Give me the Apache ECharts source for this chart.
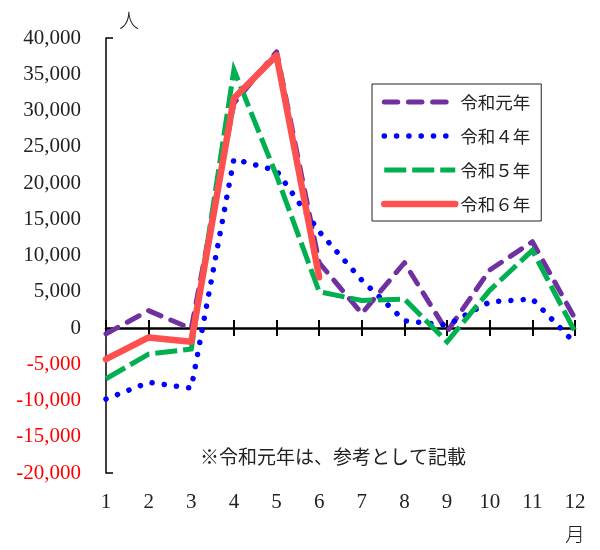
<!DOCTYPE html>
<html>
<head>
<meta charset="utf-8">
<script src="https://cdn.jsdelivr.net/npm/echarts@6/dist/echarts.min.js"></script>
<style>
html,body{margin:0;padding:0;background:#fff;}
#chart{width:600px;height:550px;}
</style>
</head>
<body>
<div id="chart"></div>
<script>
const months = ['1','2','3','4','5','6','7','8','9','10','11','12'];
const seriesNames = ['令和元年','令和４年','令和５年','令和６年'];
const r1 = [-800, 2400, -100, 31000, 38100, 9000, 2000, 9000, -500, 8000, 11900, 1300];
const r4 = [-9800, -7500, -8300, 23300, 21700, 13300, 6600, 1000, 400, 3600, 4000, -2100];
const r5 = [-7000, -3600, -2900, 35600, 21000, 5000, 3800, 4000, -1900, 5200, 10700, -500];
const r6 = [-4300, -1300, -1900, 31700, 37600, 7000];
const yTicks = {min: -20000, max: 40000, step: 5000};
const yUnit = '人';
const xUnit = '月';
const note = '※令和元年は、参考として記載';

const serif = '"Liberation Serif", "DejaVu Serif", serif';
const cjk = '"Noto Sans CJK JP", sans-serif';

const styles = [
  {color: '#7030a0', width: 5, type: [13.5, 10.7], cap: 'round', join: 'round'},
  {color: '#0000ff', width: 5.5, type: [0.1, 12.2], cap: 'round', join: 'round'},
  {color: '#00b050', width: 5, type: [22, 6], cap: 'butt', join: 'miter'},
  {color: '#ff5050', width: 6.5, type: 'solid', cap: 'round', join: 'round'}
];

function fmt(v){
  const s = Math.abs(v).toString().replace(/\B(?=(\d{3})+(?!\d))/g, ',');
  return (v < 0 ? '-' : '') + s;
}

const chart = echarts.init(document.getElementById('chart'), null, {renderer:'canvas'});
const baseX = {
  type: 'category', data: months, boundaryGap: false, gridIndex: 0,
  splitLine: {show:false}
};
const dataSets = [r1, r4, r5, r6];
chart.setOption({
  animation: false,
  backgroundColor: '#fff',
  grid: {left: 106, right: 25, top: 38, bottom: 77, containLabel: false},
  xAxis: [
    Object.assign({}, baseX, {
      position: 'bottom',
      axisLine: {show: true, onZero: true, onZeroAxisIndex: 0, lineStyle: {color: '#000', width: 2.5}},
      axisTick: {show: true, inside: true, length: 8, lineStyle: {color: '#000', width: 2}},
      axisLabel: {show: false}
    }),
    Object.assign({}, baseX, {
      position: 'bottom',
      axisLine: {show: false, onZero: true, onZeroAxisIndex: 0},
      axisTick: {show: true, inside: false, length: 8, lineStyle: {color: '#000', width: 2}},
      axisLabel: {show: false}
    }),
    Object.assign({}, baseX, {
      position: 'bottom',
      axisLine: {show: false, onZero: false},
      axisTick: {show: false},
      axisLabel: {show: true, margin: 19, color: '#222', fontFamily: serif, fontSize: 21}
    })
  ],
  yAxis: {
    type: 'value', min: yTicks.min, max: yTicks.max, interval: yTicks.step,
    axisLine: {show: true, lineStyle: {color: '#000', width: 1.5}},
    axisTick: {show: true, inside: true, length: 7, customValues: [yTicks.min, yTicks.max], lineStyle: {color: '#000', width: 1.5}},
    splitLine: {show: true, showMinLine: false, showMaxLine: false, lineStyle: {color: '#999', width: 1.3}},
    axisLabel: {
      margin: 25, fontFamily: serif, fontSize: 21,
      formatter: function(v){ return fmt(v); },
      color: function(v){ return Number(v) < 0 ? '#ff0000' : '#222'; }
    }
  },
  legend: {
    orient: 'vertical', left: 372, top: 84,
    padding: [9, 11, 8, 9],
    itemWidth: 71, itemHeight: 14, itemGap: 16,
    backgroundColor: '#fff', borderColor: '#222', borderWidth: 1,
    textStyle: {fontFamily: cjk, fontSize: 17.5, lineHeight: 18, color: '#222', padding: [0,0,0,0]},
    data: seriesNames.map(function(n, i){
      return {
        name: n,
        itemStyle: {opacity: 0, color: 'transparent', borderWidth: 0},
        lineStyle: {color: styles[i].color, width: styles[i].width, type: styles[i].type, cap: styles[i].cap, join: styles[i].join, opacity: 1}
      };
    })
  },
  series: dataSets.map(function(d, i){
    return {
      name: seriesNames[i], type: 'line', data: d, symbol: 'none', clip: false, z: 2 + i,
      itemStyle: {color: styles[i].color},
      lineStyle: styles[i]
    };
  }),
  graphic: [
    {type: 'text', x: 129, y: 20, style: {text: yUnit, fontFamily: cjk, fontSize: 20, fontWeight: 300, fill: '#222', align: 'center', verticalAlign: 'middle'}},
    {type: 'text', x: 575, y: 534, style: {text: xUnit, fontFamily: cjk, fontSize: 20, fontWeight: 300, fill: '#222', align: 'center', verticalAlign: 'middle'}},
    {type: 'text', x: 200, y: 457, style: {text: note, fontFamily: cjk, fontSize: 19, fill: '#222', align: 'left', verticalAlign: 'middle'}}
  ]
});
</script>
</body>
</html>
